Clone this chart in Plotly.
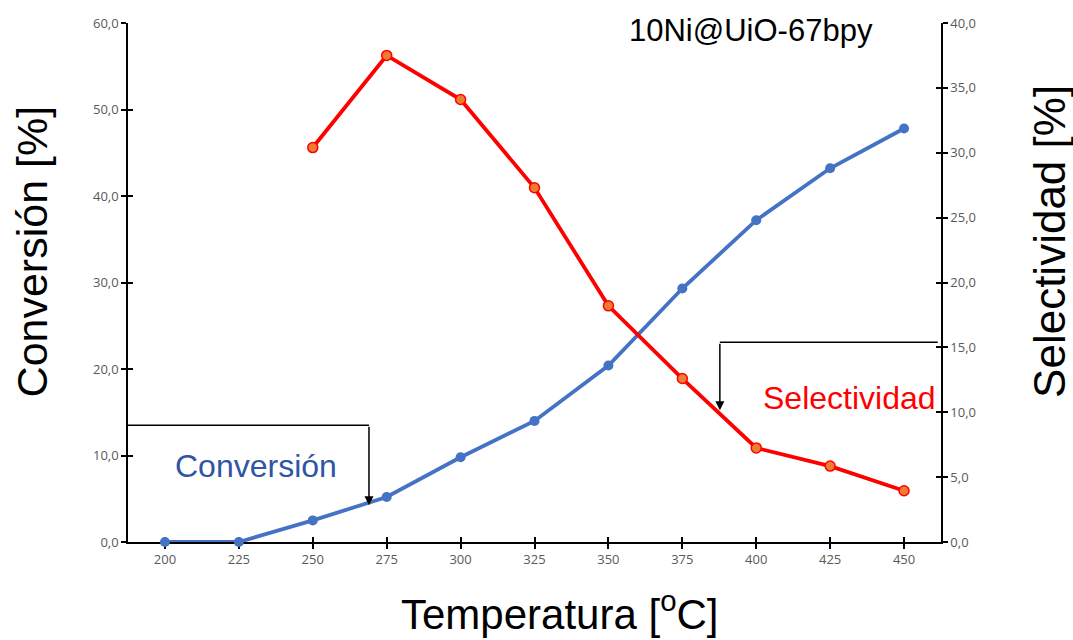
import plotly.graph_objects as go

# Reaction temperature (°C) and measured performance
temperatures = ["200", "225", "250", "275", "300", "325", "350", "375", "400", "425", "450"]
conversion = [0.0, 0.0, 2.5, 5.2, 9.8, 14.0, 20.4, 29.3, 37.2, 43.2, 47.8]
selectivity = [None, None, 30.4, 37.5, 34.1, 27.3, 18.2, 12.6, 7.25, 5.85, 3.95]

left_ticks = [0, 10, 20, 30, 40, 50, 60]
right_ticks = [0, 5, 10, 15, 20, 25, 30, 35, 40]

BLUE = "#4472C4"
RED = "#FF0000"
ORANGE = "#ED7D31"
TICK_GREY = "#595959"
SANS = "Liberation Sans, Arial, Helvetica, sans-serif"

fig = go.Figure()

fig.add_trace(go.Scatter(
    x=temperatures, y=conversion, mode="lines+markers",
    line=dict(color=BLUE, width=3.8),
    marker=dict(color=BLUE, size=10),
    cliponaxis=False,
    name="Conversión", xaxis="x", yaxis="y",
))

fig.add_trace(go.Scatter(
    x=temperatures, y=selectivity, mode="lines+markers",
    line=dict(color=RED, width=3.8),
    marker=dict(color=ORANGE, size=10, line=dict(color=RED, width=1.5)),
    cliponaxis=False,
    name="Selectividad", xaxis="x", yaxis="y2",
))

# empty traces that bring up the companion axes carrying the inner half of each tick
fig.add_trace(go.Scatter(x=temperatures, y=[None] * len(temperatures), xaxis="x2", yaxis="y3",
                         hoverinfo="skip", showlegend=False))
fig.add_trace(go.Scatter(x=temperatures, y=[None] * len(temperatures), xaxis="x", yaxis="y4",
                         hoverinfo="skip", showlegend=False))

tick_font = dict(family="Open Sans, Liberation Sans, sans-serif", size=13, color=TICK_GREY)
axis_common = dict(showgrid=False, zeroline=False, tickcolor="black", tickwidth=1.5, ticklen=5)

fig.update_layout(
    width=1073, height=640,
    margin=dict(l=128, r=132, t=23, b=98),
    paper_bgcolor="white", plot_bgcolor="white",
    showlegend=False,
    separators=",.",
    xaxis=dict(
        type="category", range=[-0.5, 10.5], layer="below traces",
        showline=True, linecolor="black", linewidth=1.5,
        ticks="outside", tickfont=tick_font, **axis_common,
    ),
    xaxis2=dict(
        type="category", range=[-0.5, 10.5], overlaying="x", anchor="y3", side="bottom",
        layer="below traces",
        showline=False, ticks="inside", showticklabels=False, **axis_common,
    ),
    yaxis=dict(
        range=[0, 60], tickvals=left_ticks, tickformat=".1f",
        showline=True, linecolor="black", linewidth=1.5,
        ticks="outside", tickfont=tick_font, **axis_common,
    ),
    yaxis3=dict(
        range=[0, 60], tickvals=left_ticks, overlaying="y", anchor="x2", side="left",
        showline=False, ticks="inside", showticklabels=False, **axis_common,
    ),
    yaxis2=dict(
        range=[0, 40], tickvals=right_ticks, tickformat=".1f",
        overlaying="y", side="right", anchor="x",
        showline=True, linecolor="black", linewidth=1.5,
        ticks="outside", tickfont=tick_font, **axis_common,
    ),
    yaxis4=dict(
        range=[0, 40], tickvals=right_ticks, overlaying="y", side="right", anchor="x",
        showline=False, ticks="inside", showticklabels=False, **axis_common,
    ),
)

title_font = dict(family=SANS, size=42, color="black")

annotations = [
    dict(text="Conversión [%]", xref="paper", yref="paper", x=-0.118, y=0.56,
         textangle=-90, showarrow=False, font=dict(family=SANS, size=43, color="black"),
         xanchor="center", yanchor="middle"),
    dict(text="Selectividad [%]", xref="paper", yref="paper", x=1.134, y=0.58,
         textangle=-90, showarrow=False, font=dict(family=SANS, size=44, color="black"),
         xanchor="center", yanchor="middle"),
    dict(text="Temperatura [<sup>o</sup>C]", xref="paper", yref="paper", x=0.531, y=-0.132,
         showarrow=False, font=title_font, xanchor="center", yanchor="middle"),
    dict(text="10Ni@UiO-67bpy", xref="paper", yref="paper", x=0.766, y=0.985,
         showarrow=False, xanchor="center", yanchor="middle",
         font=dict(family=SANS, size=31, color="black")),
    dict(text="Conversión", xref="paper", yref="paper", x=0.157, y=0.146,
         showarrow=False, xanchor="center", yanchor="middle",
         font=dict(family=SANS, size=32, color="#2F55A4")),
    dict(text="Selectividad", xref="paper", yref="paper", x=0.888, y=0.277,
         showarrow=False, xanchor="center", yanchor="middle",
         font=dict(family=SANS, size=32, color=RED)),
    # callout arrows
    dict(text="", xref="paper", yref="paper", x=0.2964, y=0.071,
         axref="pixel", ayref="pixel", ax=0, ay=-80,
         showarrow=True, arrowhead=2, arrowsize=1.2, arrowwidth=1.5, arrowcolor="black"),
    dict(text="", xref="paper", yref="paper", x=0.728, y=0.254,
         axref="pixel", ayref="pixel", ax=0, ay=-68,
         showarrow=True, arrowhead=2, arrowsize=1.2, arrowwidth=1.5, arrowcolor="black"),
]
fig.update_layout(annotations=annotations)

fig.add_shape(type="line", xref="paper", yref="paper", x0=0, x1=0.2964, y0=0.225, y1=0.225,
              line=dict(color="black", width=1.5))
fig.add_shape(type="line", xref="paper", yref="paper", x0=0.728, x1=0.996, y0=0.385, y1=0.385,
              line=dict(color="black", width=1.5))

fig.write_html("out.html")
